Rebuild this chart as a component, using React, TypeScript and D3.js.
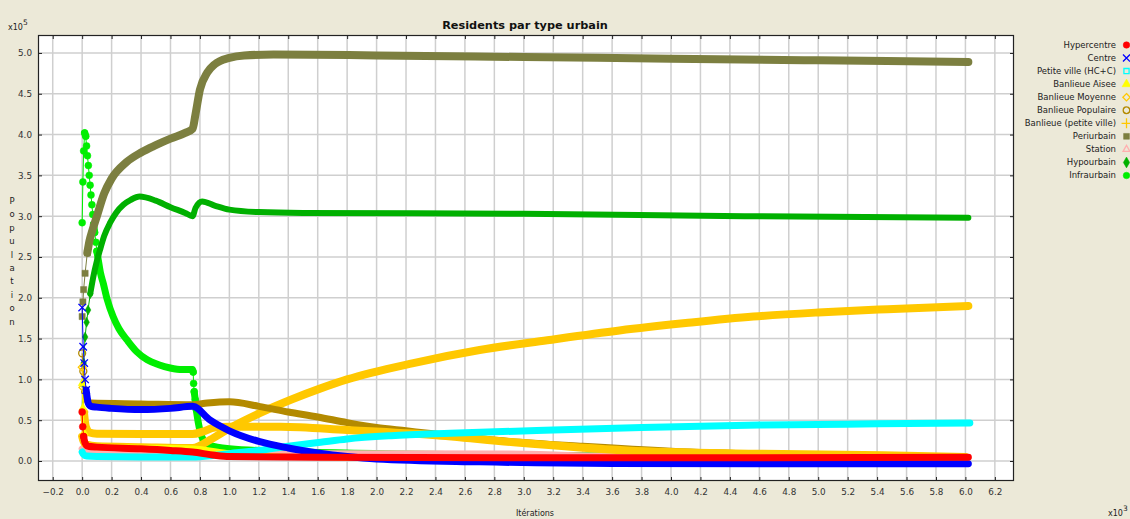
import React from 'react'
import * as d3 from 'd3'

type Pt = [number, number]

// x: iterations (x10^3), y: residents (x10^5)
const hypercentre: Pt[] = [[0, 0.6], [0.004, 0.42], [0.01, 0.3], [0.02, 0.22], [0.04, 0.18], [0.1, 0.17], [0.4, 0.15], [0.6, 0.13], [0.75, 0.11], [0.9, 0.07], [1.0, 0.055], [1.6, 0.045], [3.0, 0.04], [4.5, 0.04], [6.02, 0.045]]
const centre: Pt[] = [[0, 1.88], [0.007, 1.4], [0.014, 1.2], [0.02, 1.0], [0.027, 0.87], [0.034, 0.78], [0.041, 0.71], [0.06, 0.67], [0.1, 0.66], [0.2, 0.645], [0.4, 0.63], [0.6, 0.645], [0.75, 0.67], [0.87, 0.5], [1.0, 0.37], [1.2, 0.24], [1.4, 0.16], [1.6, 0.1], [1.8, 0.055], [2.0, 0.025], [2.7, -0.01], [3.6, -0.03], [6.02, -0.035]]
const petiteVille: Pt[] = [[0, 0.11], [0.01, 0.08], [0.03, 0.06], [0.1, 0.055], [0.4, 0.05], [0.75, 0.05], [0.9, 0.07], [1.0, 0.09], [1.2, 0.13], [1.4, 0.18], [1.62, 0.23], [1.8, 0.27], [2.1, 0.31], [2.5, 0.34], [3.2, 0.38], [3.8, 0.41], [4.6, 0.44], [5.4, 0.455], [6.03, 0.465]]
const banlieueAisee: Pt[] = [[0, 0.95], [0.005, 0.65], [0.012, 0.35], [0.025, 0.22], [0.06, 0.18], [0.4, 0.17], [0.75, 0.16], [1.0, 0.1], [1.5, 0.05], [2.5, 0.02], [4.0, 0.01], [6.0, 0.01]]
const banlieueMoyenne: Pt[] = [[0, 1.15], [0.005, 0.9], [0.012, 0.6], [0.025, 0.42], [0.05, 0.35], [0.1, 0.335], [0.4, 0.33], [0.75, 0.33], [0.82, 0.36], [0.9, 0.41], [1.0, 0.42], [1.35, 0.42], [1.8, 0.38], [2.38, 0.32], [2.93, 0.23], [3.7, 0.13], [4.56, 0.09], [5.44, 0.07], [6.0, 0.05]]
const banlieuePopulaire: Pt[] = [[0, 1.32], [0.008, 1.1], [0.02, 0.85], [0.035, 0.74], [0.06, 0.71], [0.4, 0.7], [0.75, 0.69], [0.85, 0.71], [1.0, 0.725], [1.2, 0.67], [1.4, 0.6], [1.6, 0.54], [1.8, 0.47], [2.0, 0.41], [2.2, 0.37], [2.4, 0.33], [2.9, 0.24], [3.4, 0.18], [4.0, 0.12], [5.0, 0.07], [6.0, 0.05]]
const banlieuePetiteVille: Pt[] = [[0, 0.3], [0.01, 0.24], [0.03, 0.2], [0.1, 0.18], [0.4, 0.17], [0.75, 0.16], [0.87, 0.26], [0.98, 0.38], [1.21, 0.59], [1.43, 0.76], [1.62, 0.89], [1.8, 1.0], [2.25, 1.2], [2.7, 1.36], [3.16, 1.48], [3.65, 1.6], [4.1, 1.69], [4.56, 1.77], [5.0, 1.82], [5.47, 1.86], [6.02, 1.9]]
const periurbain: Pt[] = [[0, 1.77], [0.005, 1.95], [0.01, 2.1], [0.02, 2.3], [0.035, 2.55], [0.05, 2.7], [0.07, 2.83], [0.1, 3.0], [0.15, 3.28], [0.2, 3.46], [0.3, 3.66], [0.4, 3.78], [0.5, 3.87], [0.6, 3.95], [0.7, 4.02], [0.75, 4.07], [0.77, 4.25], [0.8, 4.55], [0.85, 4.76], [0.9, 4.86], [1.0, 4.94], [1.1, 4.97], [1.3, 4.98], [2.0, 4.97], [3.0, 4.95], [4.0, 4.93], [5.0, 4.91], [6.02, 4.89]]
const station: Pt[] = [[0, 0.15], [0.02, 0.1], [0.1, 0.09], [0.75, 0.08], [1.0, 0.085], [1.3, 0.09], [2.0, 0.09], [2.9, 0.085], [3.5, 0.06], [6.0, 0.045]]
const hypourbain: Pt[] = [[0, 0.6], [0.005, 0.95], [0.01, 1.2], [0.02, 1.52], [0.03, 1.7], [0.04, 1.85], [0.055, 2.05], [0.075, 2.25], [0.1, 2.45], [0.12, 2.58], [0.15, 2.76], [0.19, 2.92], [0.23, 3.04], [0.28, 3.14], [0.33, 3.2], [0.39, 3.24], [0.5, 3.19], [0.6, 3.11], [0.7, 3.04], [0.75, 3.0], [0.77, 3.1], [0.815, 3.18], [0.9, 3.13], [1.0, 3.08], [1.2, 3.05], [1.5, 3.04], [3.0, 3.03], [4.5, 3.0], [6.02, 2.98]]
const infraurbain: Pt[] = [[0, 2.92], [0.005, 3.42], [0.01, 3.8], [0.017, 4.02], [0.024, 3.98], [0.03, 3.86], [0.036, 3.74], [0.042, 3.62], [0.048, 3.5], [0.054, 3.38], [0.06, 3.26], [0.066, 3.14], [0.072, 3.02], [0.078, 2.9], [0.085, 2.8], [0.093, 2.68], [0.1, 2.57], [0.11, 2.46], [0.125, 2.3], [0.143, 2.18], [0.17, 1.98], [0.21, 1.77], [0.25, 1.62], [0.306, 1.48], [0.37, 1.34], [0.442, 1.24], [0.52, 1.18], [0.598, 1.14], [0.68, 1.12], [0.75, 1.12], [0.754, 1.09], [0.757, 0.95], [0.761, 0.85], [0.768, 0.75], [0.775, 0.63], [0.788, 0.48], [0.802, 0.36], [0.822, 0.26], [0.856, 0.2], [0.917, 0.17], [1.0, 0.15], [1.5, 0.11], [3.0, 0.07], [6.0, 0.04]]

const xTicks = [-0.2, 0.0, 0.2, 0.4, 0.6, 0.8, 1.0, 1.2, 1.4, 1.6, 1.8, 2.0, 2.2, 2.4, 2.6, 2.8, 3.0, 3.2, 3.4, 3.6, 3.8, 4.0, 4.2, 4.4, 4.6, 4.8, 5.0, 5.2, 5.4, 5.6, 5.8, 6.0, 6.2]
const yTicks = [0.0, 0.5, 1.0, 1.5, 2.0, 2.5, 3.0, 3.5, 4.0, 4.5, 5.0]

const series = [
  { name: 'Hypercentre', data: hypercentre, color: '#ff0000', symbol: d3.symbolCircle, filled: true, width: 7 },
  { name: 'Centre', data: centre, color: '#0000ff', symbol: d3.symbolX, filled: false, width: 7 },
  { name: 'Petite ville (HC+C)', data: petiteVille, color: '#00ffff', symbol: d3.symbolSquare2, filled: false, width: 7 },
  { name: 'Banlieue Aisee', data: banlieueAisee, color: '#ffff00', symbol: d3.symbolTriangle, filled: true, width: 5 },
  { name: 'Banlieue Moyenne', data: banlieueMoyenne, color: '#ffc800', symbol: d3.symbolDiamond2, filled: false, width: 8 },
  { name: 'Banlieue Populaire', data: banlieuePopulaire, color: '#b38a00', symbol: d3.symbolCircle, filled: false, width: 7 },
  { name: 'Banlieue (petite ville)', data: banlieuePetiteVille, color: '#ffc800', symbol: d3.symbolPlus, filled: false, width: 8 },
  { name: 'Periurbain', data: periurbain, color: '#7c7f40', symbol: d3.symbolSquare, filled: true, width: 8 },
  { name: 'Station', data: station, color: '#ffafaf', symbol: d3.symbolTriangle2, filled: false, width: 7 },
  { name: 'Hypourbain', data: hypourbain, color: '#00b000', symbol: d3.symbolDiamond, filled: true, width: 6 },
  { name: 'Infraurbain', data: infraurbain, color: '#00ee00', symbol: d3.symbolCircle, filled: true, width: 7 },
]

const W = 1130
const H = 519
const FONT = '"DejaVu Sans", Verdana, sans-serif'

const App = () => {
  const svgRef = React.useRef<SVGSVGElement>(null)

  React.useEffect(() => {
    const margin = { left: 38, top: 35, right: 1014, bottom: 481 }
    const x = d3.scaleLinear().domain([-0.3, 6.33]).range([margin.left, margin.right])
    const y = d3.scaleLinear().domain([-0.245, 5.22]).range([margin.bottom, margin.top])

    const svg = d3.select(svgRef.current)
    svg.selectAll('*').remove()

    svg.append('rect').attr('width', W).attr('height', H).attr('fill', '#ece9d8')
    svg.append('rect')
      .attr('x', margin.left).attr('y', margin.top)
      .attr('width', margin.right - margin.left).attr('height', margin.bottom - margin.top)
      .attr('fill', '#fff')

    // grid
    const grid = svg.append('g').attr('stroke', '#cfcfcf').attr('stroke-width', 1.5)
    grid.selectAll('line.v').data(xTicks).join('line')
      .attr('x1', (d) => x(d)).attr('x2', (d) => x(d))
      .attr('y1', margin.top).attr('y2', margin.bottom)
    grid.selectAll('line.h').data(yTicks).join('line')
      .attr('class', 'h')
      .attr('x1', margin.left).attr('x2', margin.right)
      .attr('y1', (d) => y(d)).attr('y2', (d) => y(d))

    svg.append('clipPath').attr('id', 'plotclip')
      .append('rect')
      .attr('x', margin.left).attr('y', margin.top)
      .attr('width', margin.right - margin.left).attr('height', margin.bottom - margin.top)

    const plot = svg.append('g').attr('clip-path', 'url(#plotclip)')
    const thin = d3.line<Pt>().x((d) => x(d[0])).y((d) => y(d[1]))
    const thick = d3.line<Pt>().x((d) => x(d[0])).y((d) => y(d[1])).curve(d3.curveMonotoneX)

    const drawMarker = (g: any, s: any, cx: number, cy: number, size: number) => {
      g.append('path')
        .attr('transform', `translate(${cx},${cy})`)
        .attr('d', d3.symbol(s.symbol, size)())
        .attr('fill', s.filled ? s.color : 'none')
        .attr('stroke', s.color)
        .attr('stroke-width', s.filled ? 0.5 : 1.3)
    }

    // first series of the legend ends up on top
    series.slice().reverse().forEach((s) => {
      const g = plot.append('g')
      g.append('path').attr('d', thin(s.data)).attr('fill', 'none')
        .attr('stroke', s.color).attr('stroke-width', 1)

      // markers stay apart only where the curve is very steep
      const limit = s.width
      const runs: Pt[][] = []
      const steepPts = new Set<number>()
      let run: Pt[] = [s.data[0]]
      for (let i = 1; i < s.data.length; i += 1) {
        const a = s.data[i - 1]
        const b = s.data[i]
        const dx = Math.abs(x(b[0]) - x(a[0]))
        const dy = Math.abs(y(b[1]) - y(a[1]))
        if (dy <= limit * dx + 1) {
          run.push(b)
        } else {
          if (run.length > 1) runs.push(run)
          run = [b]
          steepPts.add(i - 1)
          steepPts.add(i)
        }
      }
      if (run.length > 1) runs.push(run)

      runs.forEach((r) => {
        g.append('path').attr('d', thick(r)).attr('fill', 'none')
          .attr('stroke', s.color).attr('stroke-width', s.width)
          .attr('stroke-linejoin', 'round').attr('stroke-linecap', 'round')
      })
      steepPts.forEach((i) => {
        const p = s.data[i]
        drawMarker(g, s, x(p[0]), y(p[1]), s.width > 6 ? 38 : 28)
      })
    })

    // axes, ticks inward
    const axisStyle = (g: any) => {
      g.select('.domain').remove()
      g.selectAll('.tick line').attr('stroke', '#222')
      g.selectAll('.tick text').attr('fill', '#333').attr('font-family', FONT).attr('font-size', 8.8)
    }
    svg.append('g').attr('transform', `translate(0,${margin.bottom})`)
      .call(d3.axisBottom(x).tickValues(xTicks).tickSize(-4).tickPadding(8).tickFormat(d3.format('.1f')))
      .call(axisStyle)
    svg.append('g').attr('transform', `translate(0,${margin.top})`)
      .call(d3.axisTop(x).tickValues(xTicks).tickSize(-4).tickFormat(() => ''))
      .call(axisStyle)
    svg.append('g').attr('transform', `translate(${margin.left},0)`)
      .call(d3.axisLeft(y).tickValues(yTicks).tickSize(-4).tickPadding(6).tickFormat(d3.format('.1f')))
      .call(axisStyle)
    svg.append('g').attr('transform', `translate(${margin.right},0)`)
      .call(d3.axisRight(y).tickValues(yTicks).tickSize(-4).tickFormat(() => ''))
      .call(axisStyle)

    svg.append('rect')
      .attr('x', margin.left + 0.5).attr('y', margin.top + 0.5)
      .attr('width', margin.right - margin.left - 1).attr('height', margin.bottom - margin.top - 1)
      .attr('fill', 'none').attr('stroke', '#222').attr('stroke-width', 1.2)

    // title and labels
    svg.append('text').attr('x', 525).attr('y', 29).attr('text-anchor', 'middle')
      .attr('font-family', FONT).attr('font-size', 11.3).attr('font-weight', 'bold').attr('fill', '#111')
      .text('Residents par type urbain')

    svg.append('text').attr('x', 535).attr('y', 516).attr('text-anchor', 'middle')
      .attr('font-family', FONT).attr('font-size', 8).attr('fill', '#222')
      .text('Itérations')

    'Population'.split('').forEach((ch, i) => {
      svg.append('text').attr('x', 12).attr('y', 204 + i * 13.4).attr('text-anchor', 'middle')
        .attr('font-family', FONT).attr('font-size', 8.5).attr('fill', '#222').text(ch)
    })

    const expo = (tx: number, ty: number, p: string) => {
      const t = svg.append('text').attr('x', tx).attr('y', ty)
        .attr('font-family', FONT).attr('font-size', 8).attr('fill', '#222')
      t.append('tspan').text('x10')
      t.append('tspan').attr('dy', -5).attr('font-size', 7.5).text(p)
    }
    expo(8, 30, '5')
    expo(1108, 516, '3')

    // legend
    const legend = svg.append('g')
    series.forEach((s, i) => {
      const ly = 45 + i * 13.05
      legend.append('text').attr('x', 1116).attr('y', ly).attr('dy', '0.35em')
        .attr('text-anchor', 'end').attr('font-family', FONT).attr('font-size', 8.5)
        .attr('fill', '#222').text(s.name)
      drawMarker(legend, s, 1126.5, ly, 34)
    })
  }, [])

  return <svg ref={svgRef} width={W} height={H} style={{ position: 'absolute', left: 0, top: 0, display: 'block' }} />
}

export default App
